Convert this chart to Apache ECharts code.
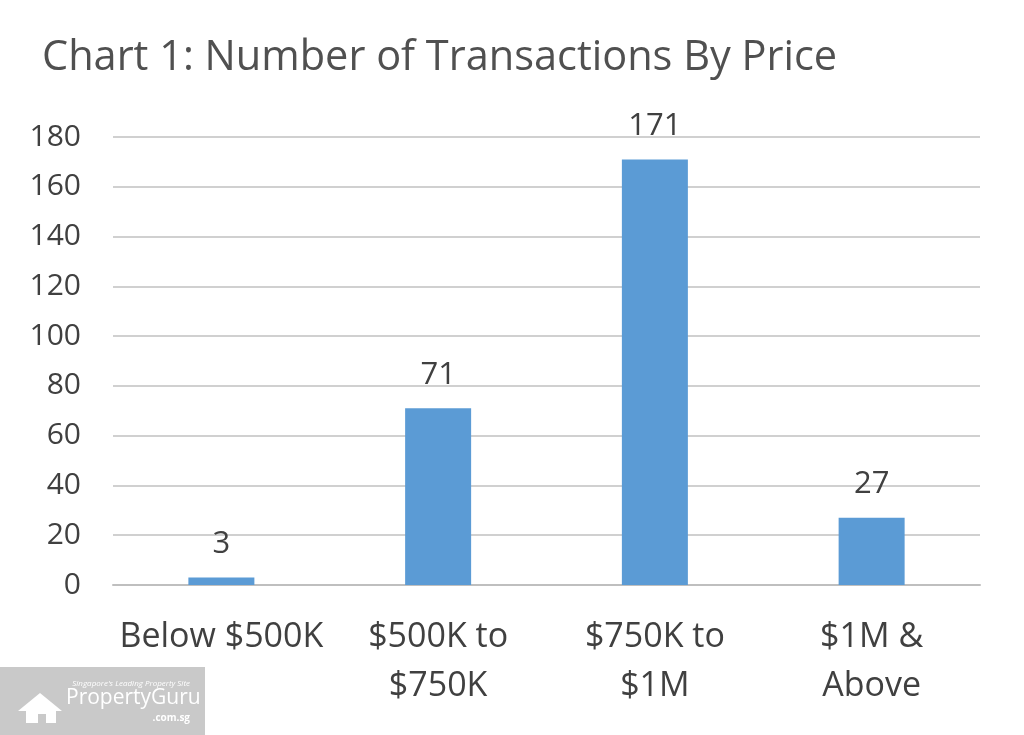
<!DOCTYPE html>
<html>
<head>
<meta charset="utf-8">
<script src="https://cdn.jsdelivr.net/npm/echarts@6/dist/echarts.min.js"></script>
<style>
html,body{margin:0;padding:0;background:#fff;}
#chart{width:1024px;height:735px;}
</style>
</head>
<body>
<div id="chart"></div>
<script>
var categories = ['Below $500K', '$500K to\n$750K', '$750K to\n$1M', '$1M &\nAbove'];
var transactions = [3, 71, 171, 27];
var yTicks = [0, 20, 40, 60, 80, 100, 120, 140, 160, 180];

var chart = echarts.init(document.getElementById('chart'));
var FONT = '"Open Sans", Lato, sans-serif';
chart.setOption({
  animation: false,
  backgroundColor: '#ffffff',
  title: {
    text: 'Chart 1: Number of Transactions By Price',
    left: 37, top: 32,
    textStyle: { fontFamily: FONT, fontSize: 41.5, fontWeight: 'normal', color: '#505050' }
  },
  grid: { left: 113, right: 44, top: 137, bottom: 150 },
  xAxis: {
    type: 'category',
    data: categories,
    axisLine: { lineStyle: { color: '#bfbfbf', width: 2 } },
    axisTick: { show: false },
    axisLabel: { fontFamily: FONT, fontSize: 34, color: '#404040', margin: 28, lineHeight: 49, interval: 0 }
  },
  yAxis: {
    type: 'value',
    min: yTicks[0], max: yTicks[yTicks.length - 1], interval: 20,
    axisLine: { show: false },
    axisTick: { show: false },
    splitLine: { lineStyle: { color: '#d0d0d0', width: 2 } },
    axisLabel: { fontFamily: FONT, fontSize: 30, color: '#404040', margin: 32 }
  },
  series: [{
    type: 'bar',
    data: transactions,
    barWidth: 66,
    itemStyle: { color: '#5b9bd5' },
    label: { show: true, position: 'top', distance: 18, fontFamily: FONT, fontSize: 31, color: '#404040' }
  }],
  graphic: [{
    type: 'group', left: 0, bottom: 0,
    children: [
      { type: 'rect', shape: { x: 0, y: 0, width: 205, height: 68 }, style: { fill: '#c9c9c9' } },
      { type: 'text', style: { x: 190, y: 13, text: "Singapore's Leading Property Site", align: 'right', fill: '#ffffff', font: 'italic 8px "Open Sans", sans-serif' } },
      { type: 'text', style: { x: 66, y: 21, text: 'PropertyGuru', fill: '#ffffff', font: '21px "Open Sans", sans-serif' } },
      { type: 'text', style: { x: 190, y: 46, text: '.com.sg', align: 'right', fill: '#ffffff', font: 'bold 10px "Open Sans", sans-serif' } },
      { type: 'polygon', shape: { points: [[18,44],[40,26],[62,44],[56,44],[56,56],[46,56],[46,47],[38,47],[38,56],[26,56],[26,44]] }, style: { fill: '#ffffff' } }
    ]
  }]
});
</script>
</body>
</html>
